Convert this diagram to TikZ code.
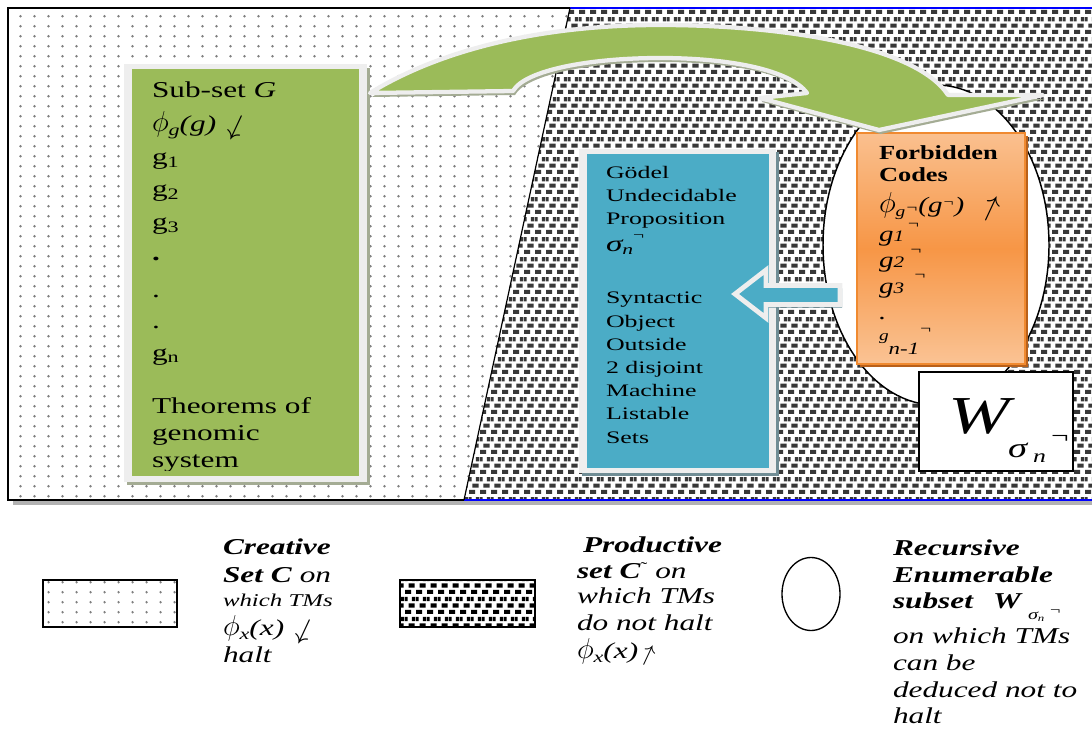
\documentclass[tikz,border=0pt]{standalone}
\usepackage{fontspec}
\setmainfont{Liberation Serif}
\newfontfamily\fa[FakeStretch=1.38]{Liberation Serif}
\newfontfamily\fb[FakeStretch=1.47]{Liberation Serif}
\newfontfamily\fo[FakeStretch=1.32]{Liberation Serif}
\usetikzlibrary{patterns.meta}
\definecolor{grn}{HTML}{9BBB59}
\definecolor{blu}{HTML}{4BACC6}
\definecolor{lite}{HTML}{EEEEEE}
\definecolor{orgA}{HTML}{FAC08F}
\definecolor{orgB}{HTML}{F79646}
\definecolor{orgC}{HTML}{FAC394}
\definecolor{orgbd}{HTML}{F08A30}
\definecolor{orgsh}{HTML}{B8601A}
\definecolor{gsh}{HTML}{A4AC94}
\definecolor{dgray}{HTML}{383838}
\newcommand\mydn{\scalebox{1.3}{\rotatebox{-25}{$\downarrow$}}}
\newcommand\myup{\scalebox{1.3}{\rotatebox{-25}{$\uparrow$}}}
\newcommand\smup{\scalebox{1.05}{\rotatebox{-25}{$\uparrow$}}}
\newcommand\bigphi{\scalebox{1.25}{$\phi$}}
\tikzdeclarepattern{
  name=sdots,
  type=uncolored,
  bounding box={(0pt,0pt) and (10.5pt,7.3pt)},
  tile size={(10.5pt,7.3pt)},
  code={\fill (5.25pt,3.65pt) circle [radius=1.05pt];}
}
\tikzdeclarepattern{
  name=ddense,
  type=uncolored,
  bounding box={(0pt,0pt) and (8pt,15pt)},
  tile size={(8pt,15pt)},
  code={\fill (0pt,0pt) rectangle (4.8pt,3.2pt);
        \fill (2.7pt,5pt) rectangle (7.5pt,8.2pt);
        \fill (5.3pt,10pt) rectangle (8pt,13.2pt);
        \fill (0pt,10pt) rectangle (2.1pt,13.2pt);}
}
\tikzset{
  txt/.style={anchor=base west, inner sep=0pt, outer sep=0pt},
  gt/.style={txt, font=\fa\fontsize{17}{20}\selectfont},
  bt/.style={txt, font=\fb\fontsize{13.2}{15}\selectfont},
  obt/.style={txt, font=\fo\bfseries\fontsize{15}{17}\selectfont},
  oit/.style={txt, font=\fo\itshape\fontsize{16.5}{18}\selectfont},
  lt/.style={txt, font=\fa\fontsize{17}{20}\selectfont},
  lbi/.style={txt, font=\fa\bfseries\itshape\fontsize{17}{20}\selectfont},
  lit/.style={txt, font=\fa\itshape\fontsize{17}{20}\selectfont},
}
\begin{document}
\begin{tikzpicture}[x=0.75pt,y=-0.75pt]
\useasboundingbox (0,0) rectangle (1092,734);
% frame shadow
\fill[gray!60] (13,500) rectangle (1092,505);
% creative region
\fill[white] (8,8) -- (570,8) -- (464,500) -- (8,500) -- cycle;
\path[pattern=sdots, pattern color=gray] (8,8) -- (570,8) -- (464,500) -- (8,500) -- cycle;
% productive region
\fill[white] (570,8) -- (1093,8) -- (1093,500) -- (464,500) -- cycle;
\path[pattern=ddense, pattern color=dgray] (570,8) -- (1093,8) -- (1093,500) -- (464,500) -- cycle;
% borders
\draw[line width=1.3pt] (464,500) -- (8,500) -- (8,8) -- (570,8);
\draw[blue, line width=1.3pt] (570,8) -- (1093,8);
\draw[blue, line width=1.3pt] (464,500) -- (1093,500);
\draw[line width=0.9pt] (570,8) -- (464,500);

% green box
\fill[gsh] (127,68) rectangle (370,485);
\fill[lite] (124,64) rectangle (367,482);
\fill[grn] (132,69) rectangle (359,476);

% blue box
\fill[gray!70!blu] (582,152) rectangle (779,476);
\fill[lite] (579,149) rectangle (776,473);
\fill[blu] (587,154) rectangle (769,468);

% RE ellipse
\draw[fill=white, line width=1.1pt] (936,245) ellipse [x radius=113, y radius=160];

% orange box
\fill[orgsh] (860,136) rectangle (1028,367);
\shade[top color=orgA, bottom color=orgC, middle color=orgB] (857,133) rectangle (1025,364);
\draw[orgbd, line width=0.9pt] (857,133) rectangle (1025,364);

% W box
\draw[fill=white, line width=1.2pt] (919,372) rectangle (1073,471);

% green curved arrow
\fill[gsh, shift={(2,4)}] (370,93) .. controls (440,50) and (540,25) .. (660,25)
  .. controls (780,25) and (915,45) .. (948,95) -- (1043,95) -- (879,130) -- (760,98) -- (807,93)
  .. controls (790,70) and (730,58) .. (660,58) .. controls (590,58) and (525,70) .. (513,91) -- cycle;
\filldraw[fill=grn, draw=lite, line width=3.2pt, line join=round] (370,93) .. controls (440,50) and (540,25) .. (660,25)
  .. controls (780,25) and (915,45) .. (948,95) -- (1043,95) -- (879,130) -- (760,98) -- (807,93)
  .. controls (790,70) and (730,58) .. (660,58) .. controls (590,58) and (525,70) .. (513,91) -- cycle;

% blue block arrow
\fill[gray!60!blu, shift={(2,3)}] (735,294) -- (766,270) -- (766,285.5) -- (840,285.5) -- (840,304.5) -- (766,304.5) -- (766,318) -- cycle;
\filldraw[fill=blu, draw=lite, line width=3.6pt, line join=miter] (735,294) -- (766,270) -- (766,285.5) -- (840,285.5) -- (840,304.5) -- (766,304.5) -- (766,318) -- cycle;

% green box text
\node[gt] (gA) at (152,98) {Sub-set \textit{G}};
\node[gt] (gB) at (152,132) {\textit{\bigphi\raisebox{-3pt}{\fontsize{12}{12}\selectfont g}(g)}\ \mydn};
\node[gt] (gC) at (152,165) {g\raisebox{-2pt}{\fontsize{12}{12}\selectfont 1}};
\node[gt] (gD) at (152,197) {g\raisebox{-2pt}{\fontsize{12}{12}\selectfont 2}};
\node[gt] (gE) at (152,230) {g\raisebox{-2pt}{\fontsize{12}{12}\selectfont 3}};
\node[gt] (gF) at (152,261) {\textbf{.}};
\node[gt] (gG) at (152,297) {.};
\node[gt] (gH) at (152,328) {.};
\node[gt] (gI) at (152,360) {g\raisebox{-2pt}{\fontsize{12}{12}\selectfont n}};
\node[gt] (gJ) at (152,413) {Theorems of};
\node[gt] (gK) at (152,440) {genomic};
\begin{scope}
\clip (132,69) rectangle (359,470);
\node[gt] (gL) at (152,467) {system};
\end{scope}

% blue box text
\node[bt] (bA) at (606,179) {Gödel};
\node[bt] (bB) at (606,202) {Undecidable};
\node[bt] (bC) at (606,225) {Proposition};
\node[bt] (bD) at (606,252) {{\itshape\fontsize{17}{17}\selectfont σ}\raisebox{-2pt}{\itshape\fontsize{11}{11}\selectfont n}\raisebox{9pt}{\fontsize{10}{10}\selectfont ¬}};
\node[bt] (bE) at (606,304) {Syntactic};
\node[bt] (bF) at (606,327) {Object};
\node[bt] (bG) at (606,350) {Outside};
\node[bt] (bH) at (606,373) {2 disjoint};
\node[bt] (bI) at (606,396) {Machine};
\node[bt] (bJ) at (606,419) {Listable};
\node[bt] (bK) at (606,443) {Sets};

% orange box text
\node[obt] (oA) at (879,160) {Forbidden};
\node[obt] (oB) at (879,182) {Codes};
\node[oit] (oC) at (879,213) {\bigphi\raisebox{-3pt}{\fontsize{11}{11}\selectfont g}{\fontsize{11}{11}\selectfont ¬}(g\raisebox{5pt}{\fontsize{10}{10}\selectfont ¬})\ \ \myup};
\node[oit] (oD) at (879,242) {g{\fontsize{12}{12}\selectfont 1}\hspace{2pt}\raisebox{10pt}{\fontsize{11}{11}\selectfont ¬}};
\node[oit] (oE) at (879,268) {g{\fontsize{12}{12}\selectfont 2}\hspace{4pt}\raisebox{10pt}{\fontsize{11}{11}\selectfont ¬}};
\node[oit] (oF) at (879,293) {g{\fontsize{12}{12}\selectfont 3}\hspace{7pt}\raisebox{10pt}{\fontsize{11}{11}\selectfont ¬}};
\node[oit] (oG) at (879,320) {.};
\node[oit] (oH) at (879,340) {{\fontsize{11}{11}\selectfont g}\raisebox{-11pt}{\fontsize{13}{13}\selectfont n-1}\raisebox{5pt}{\fontsize{11}{11}\selectfont ¬}};

% W label
\node[txt, font=\fa\itshape\fontsize{40}{40}\selectfont] (wW) at (948,433) {W};
\node[txt, font=\fa\itshape\fontsize{21}{21}\selectfont] (wS) at (1008,457) {σ};
\node[txt, font=\fa\itshape\fontsize{14}{14}\selectfont] (wN) at (1033,462) {n};
\node[txt, font=\fa\fontsize{17}{17}\selectfont] (wR) at (1051,443) {¬};

% legend: creative
\fill[white] (43,580) rectangle (177,627);
\path[pattern=sdots, pattern color=gray] (43,580) rectangle (177,627);
\draw[line width=1.1pt] (43,580) rectangle (177,627);
\node[lbi] (cA) at (223,554) {Creative};
\node[lt] (cB) at (223,582) {\textbf{\textit{Set C}} \textit{on}};
\node[lit, font=\fa\itshape\fontsize{13.5}{15}\selectfont] (cC) at (223,606) {which TMs};
\node[lt] (cD) at (223,635) {\textit{\bigphi\raisebox{-3pt}{\fontsize{12}{12}\selectfont x}(x)}\ \mydn};
\node[lit] (cE) at (223,662) {halt};

% legend: productive
\fill[white] (400,580) rectangle (535,627);
\path[pattern=ddense, pattern color=black] (400,580) rectangle (535,627);
\draw[line width=0.9pt] (400,580) rectangle (535,627);
\node[lbi] (pA) at (583,552) {Productive};
\node[lt] (pB) at (577,578) {\textbf{\textit{set C}}\raisebox{4pt}{\fontsize{11}{11}\selectfont ˜}\ \textit{on}};
\node[lit] (pC) at (577,603) {which TMs};
\node[lit] (pD) at (577,630) {do not halt};
\node[lt] (pE) at (577,658) {\textit{\bigphi\raisebox{-3pt}{\fontsize{12}{12}\selectfont x}(x)}\smup};

% legend: RE subset
\draw[line width=1pt] (811,594) ellipse [x radius=29, y radius=36.5];
\node[lbi] (rA) at (893,555) {Recursive};
\node[lbi] (rB) at (893,582) {Enumerable};
\node[lbi] (rC) at (893,608) {subset};
\node[lbi] (rW) at (993,608) {W};
\node[txt, font=\fa\itshape\fontsize{11}{11}\selectfont] (rS) at (1028,619) {σ\raisebox{-1.5pt}{\fontsize{7}{7}\selectfont n}};
\node[txt, font=\fa\fontsize{10}{10}\selectfont] (rN) at (1050,614) {¬};
\node[lit] (rD) at (893,643) {on which TMs};
\node[lit] (rE) at (893,670) {can be};
\node[lit] (rF) at (893,697) {deduced not to};
\node[lit] (rG) at (893,723) {halt};
\end{tikzpicture}
\end{document}
